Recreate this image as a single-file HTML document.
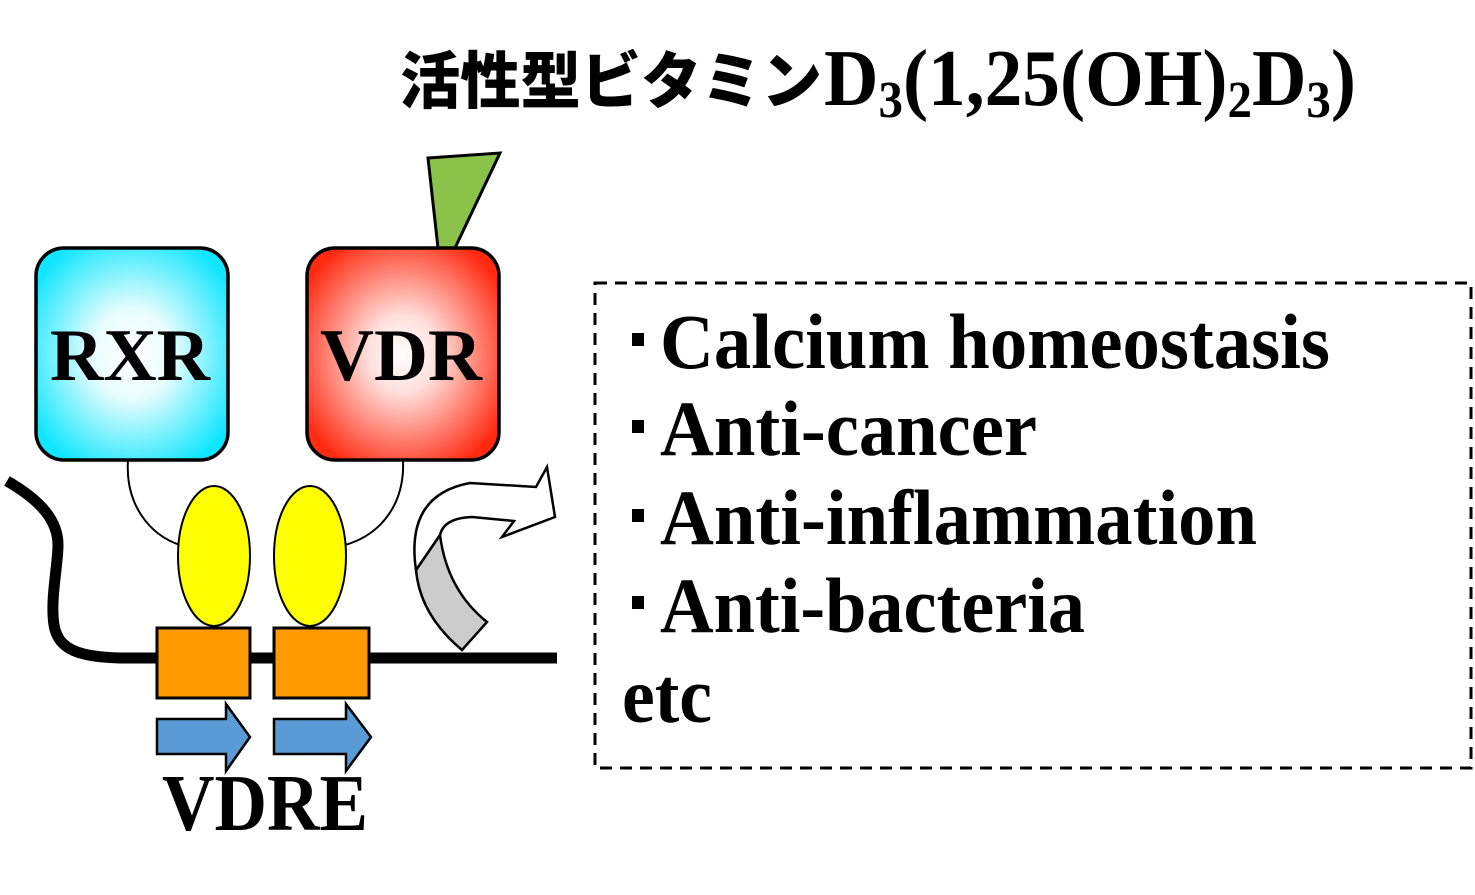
<!DOCTYPE html>
<html><head><meta charset="utf-8"><style>
html,body{margin:0;padding:0;background:#fff;}
svg{display:block;}
</style></head><body>
<svg width="1475" height="895" viewBox="0 0 1475 895" xmlns="http://www.w3.org/2000/svg">
<defs>
<radialGradient id="cy" cx="50%" cy="50%" r="60%"><stop offset="0" stop-color="#ffffff"/><stop offset="0.35" stop-color="#e8fdff"/><stop offset="1" stop-color="#10e6ff"/></radialGradient>
<radialGradient id="rd" cx="50%" cy="50%" r="60%"><stop offset="0" stop-color="#ffffff"/><stop offset="0.3" stop-color="#ffe0dc"/><stop offset="1" stop-color="#ff2a10"/></radialGradient>
</defs>
<text x="400" y="103" font-family="'Noto Sans CJK JP', sans-serif" font-weight="900" font-size="62" textLength="422" lengthAdjust="spacingAndGlyphs">活性型ビタミン</text>
<text x="824" y="105" font-family="'Liberation Serif', serif" font-weight="bold" font-size="80" textLength="532" lengthAdjust="spacingAndGlyphs">D<tspan font-size="52" dy="12">3</tspan><tspan dy="-12">(1,25(OH)</tspan><tspan font-size="52" dy="12">2</tspan><tspan dy="-12">D</tspan><tspan font-size="52" dy="12">3</tspan><tspan dy="-12">)</tspan></text>

<polygon points="428,158 500,153 455,248 438,248" fill="#8bc34a" stroke="#000" stroke-width="3"/>

<path d="M7,481 C40,500 58,520 58,545 C58,565 50,600 54,625 C58,650 80,657 120,658 L557,658" fill="none" stroke="#000" stroke-width="11"/>

<path d="M128,460 C125,505 150,535 180,545" fill="none" stroke="#000" stroke-width="2"/>
<path d="M403,460 C405,505 380,535 345,545" fill="none" stroke="#000" stroke-width="2"/>

<rect x="36" y="248" width="192" height="212" rx="28" fill="url(#cy)" stroke="#000" stroke-width="3.5"/>
<rect x="307" y="248" width="192" height="212" rx="28" fill="url(#rd)" stroke="#000" stroke-width="3.5"/>
<text x="50" y="380" font-family="'Liberation Serif', serif" font-weight="bold" font-size="74" textLength="160" lengthAdjust="spacingAndGlyphs">RXR</text>
<text x="320" y="380" font-family="'Liberation Serif', serif" font-weight="bold" font-size="74" textLength="162" lengthAdjust="spacingAndGlyphs">VDR</text>

<ellipse cx="214" cy="556" rx="36" ry="70" fill="#ffff00" stroke="#000" stroke-width="2"/>
<ellipse cx="310" cy="556" rx="36" ry="70" fill="#ffff00" stroke="#000" stroke-width="2"/>

<rect x="157" y="628" width="93" height="70" fill="#ff9900" stroke="#000" stroke-width="3"/>
<rect x="274" y="628" width="95" height="70" fill="#ff9900" stroke="#000" stroke-width="3"/>

<polygon points="157,719 226,719 226,704 250,737 226,771 226,754 157,754" fill="#5b9bd5" stroke="#000" stroke-width="2.5"/>
<polygon points="274,719 346,719 346,704 371,737 346,771 346,754 274,754" fill="#5b9bd5" stroke="#000" stroke-width="2.5"/>
<text x="162" y="830" font-family="'Liberation Serif', serif" font-weight="bold" font-size="80" textLength="206" lengthAdjust="spacingAndGlyphs">VDRE</text>

<path d="M416,570 Q420,615 462,650 L487,622 Q447,590 440,535 Z" fill="#cccccc" stroke="#000" stroke-width="2.5"/>
<path d="M416,570 Q405,495 470,483 L536,487 L547,467 L555,517 L502,537 L514,521 L472,517 Q444,518 440,535 Z" fill="#fff" stroke="#000" stroke-width="2.5"/>

<rect x="595" y="283" width="876" height="485" fill="none" stroke="#000" stroke-width="3" stroke-dasharray="12,8"/>
<g font-family="'Liberation Serif', serif" font-weight="bold" font-size="78">
<rect x="632" y="333" width="12" height="13" fill="#000"/>
<text x="660" y="368" textLength="670" lengthAdjust="spacingAndGlyphs">Calcium homeostasis</text>
<rect x="632" y="420" width="12" height="13" fill="#000"/>
<text x="660" y="455" textLength="377" lengthAdjust="spacingAndGlyphs">Anti-cancer</text>
<rect x="632" y="509" width="12" height="13" fill="#000"/>
<text x="660" y="544" textLength="597" lengthAdjust="spacingAndGlyphs">Anti-inflammation</text>
<rect x="632" y="596" width="12" height="13" fill="#000"/>
<text x="660" y="632" textLength="425" lengthAdjust="spacingAndGlyphs">Anti-bacteria</text>
<text x="622" y="722" textLength="90" lengthAdjust="spacingAndGlyphs">etc</text>
</g>
</svg>
</body></html>
